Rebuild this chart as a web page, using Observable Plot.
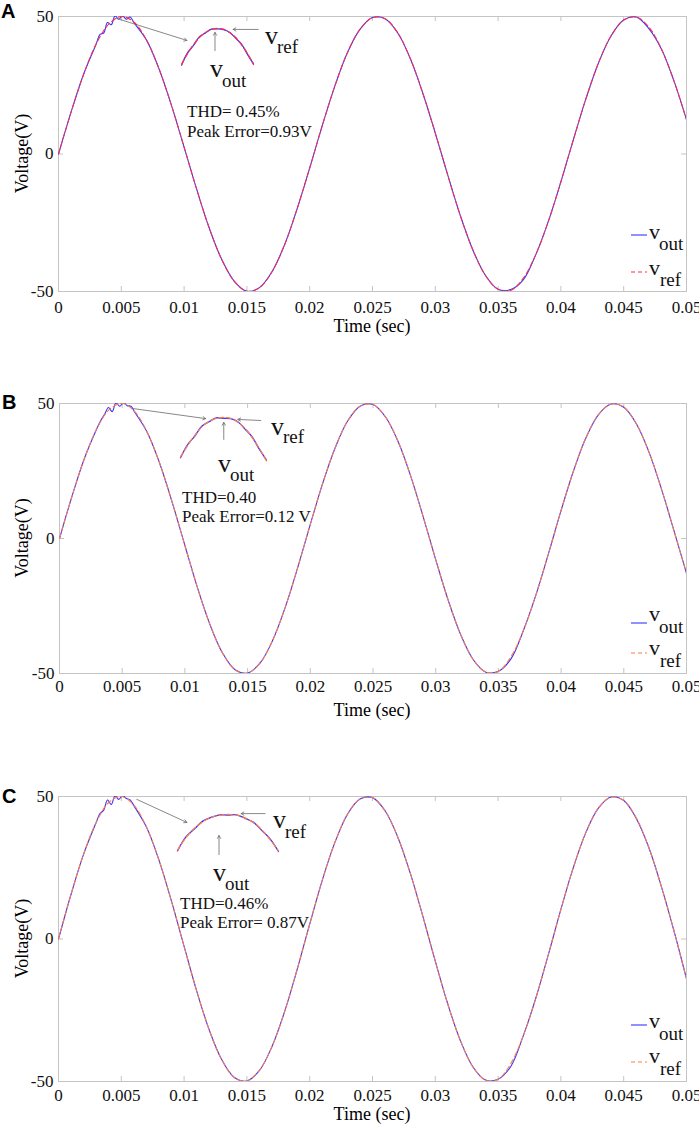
<!DOCTYPE html>
<html><head><meta charset="utf-8">
<script src="https://cdn.jsdelivr.net/npm/d3@7"></script>
<script src="https://cdn.jsdelivr.net/npm/@observablehq/plot@0.6"></script>
<style>
body{margin:0;background:#fff;}
#root{position:relative;width:699px;height:1126px;overflow:hidden;font-family:"Liberation Serif","Times New Roman",serif;}
#root svg{position:absolute;left:0;}
</style></head><body><div id="root"></div>
<script>
// ---- sampling grids (seconds) ----
const time = [0,0.001,0.002,0.003,0.004,0.005,0.006,0.007,0.008,0.009,0.01,0.011,0.012,0.013,0.014,0.015,0.016,0.017,0.018,0.019,0.02,0.021,0.022,0.023,0.024,0.025,0.026,0.027,0.028,0.029,0.03,0.031,0.032,0.033,0.034,0.035,0.036,0.037,0.038,0.039,0.04,0.041,0.042,0.043,0.044,0.045,0.046,0.047,0.048,0.049,0.05];
const voutTime = [0,0.001,0.002,0.003,0.0033,0.0036,0.0039,0.0042,0.0045,0.0048,0.0051,0.0054,0.0057,0.006,0.007,0.008,0.009,0.01,0.011,0.012,0.013,0.014,0.015,0.016,0.017,0.018,0.019,0.02,0.021,0.022,0.023,0.024,0.025,0.026,0.027,0.028,0.029,0.03,0.031,0.032,0.033,0.034,0.035,0.036,0.037,0.038,0.039,0.04,0.041,0.042,0.043,0.044,0.045,0.046,0.047,0.048,0.049,0.05];

// ---- panel A ----
const vrefA = [0,15.2,29.0,40.0,47.2,50.0,48.0,41.5,31.0,17.6,2.5,-12.8,-26.9,-38.4,-46.3,-49.9,-48.6,-42.8,-33.0,-19.9,-5.1,10.3,24.7,36.8,45.3,49.6,49.2,44.1,34.8,22.2,7.6,-7.8,-22.5,-35.0,-44.2,-49.2,-49.6,-45.2,-36.6,-24.5,-10.1,5.3,20.2,33.2,43.0,48.7,49.8,46.2,38.2,26.6,12.5];
const voutA = [0,15.2,29.0,40.0,43.5,44.0,47.8,47.0,50.2,49.0,50.3,49.0,49.8,47.8,41.5,31.0,17.6,2.5,-12.8,-26.9,-38.4,-46.3,-49.9,-48.6,-42.8,-33.0,-19.9,-5.1,10.3,24.7,36.8,45.3,49.6,49.2,44.1,34.8,22.2,7.6,-7.8,-22.5,-35.0,-44.2,-49.2,-49.3,-45.8,-36.6,-24.5,-10.1,5.3,20.2,33.2,43.0,48.7,49.8,45.6,38.2,26.6,12.5];

// ---- panel B ----
const vrefB = [0,15.7,29.8,40.9,47.9,50.0,47.0,39.3,27.7,13.2,-2.6,-18.2,-31.9,-42.4,-48.6,-49.8,-46.1,-37.7,-25.5,-10.7,5.2,20.6,33.8,43.7,49.1,49.6,45.0,35.9,23.2,8.1,-7.8,-22.9,-35.7,-44.9,-49.5,-49.2,-43.8,-34.0,-20.8,-5.5,10.4,25.2,37.5,46.0,49.8,48.6,42.5,32.1,18.4,2.9,-12.9];
const voutB = [0,15.7,29.8,40.9,43.8,46.0,48.5,47.0,50.2,49.0,50.3,49.2,49.0,46.8,39.3,27.7,13.2,-2.6,-18.2,-31.9,-42.4,-48.6,-49.8,-46.1,-37.7,-25.5,-10.7,5.2,20.6,33.8,43.7,49.1,49.6,45.0,35.9,23.2,8.1,-7.8,-22.9,-35.7,-44.9,-49.5,-49.2,-44.6,-34.0,-20.8,-5.5,10.4,25.2,37.5,46.0,49.8,48.6,42.5,32.1,18.4,2.9,-12.9];

// ---- panel C ----
const vrefC = [0,15.7,29.8,40.9,47.9,50.0,47.0,39.3,27.7,13.2,-2.6,-18.2,-31.9,-42.4,-48.6,-49.8,-46.1,-37.7,-25.5,-10.7,5.2,20.6,33.8,43.7,49.1,49.6,45.0,35.9,23.2,8.1,-7.8,-22.9,-35.7,-44.9,-49.5,-49.2,-43.8,-34.0,-20.8,-5.5,10.4,25.2,37.5,46.0,49.8,48.6,42.5,32.1,18.4,2.9,-14.0];
const voutC = [0,15.7,29.8,40.9,44.0,45.2,48.8,47.2,50.2,49.0,50.3,49.3,48.8,46.8,39.3,27.7,13.2,-2.6,-18.2,-31.9,-42.4,-48.6,-49.8,-46.1,-37.7,-25.5,-10.7,5.2,20.6,33.8,43.7,49.1,49.6,45.0,35.9,23.2,8.1,-7.8,-22.9,-35.7,-44.9,-49.5,-49.2,-44.8,-34.0,-20.8,-5.5,10.4,25.2,37.5,46.0,49.8,48.6,42.3,32.1,18.4,2.9,-14.0];

// ---- magnified peak insets (ms around the first peak) ----
const insetTime = [-1.5,-1.25,-1,-0.75,-0.5,-0.25,0,0.25,0.5,0.75,1,1.25,1.5];
const insetVrefA = [44.7,46.3,47.6,48.7,49.4,49.9,50,49.9,49.4,48.7,47.6,46.3,44.7];
const insetVoutA = [44.6,46.4,47.5,48.8,49.35,49.9,49.95,49.85,49.45,48.6,47.7,46.2,44.8];
const insetVrefB = [44.9,46.4,47.7,48.8,49.5,49.9,50,49.9,49.4,48.6,47.4,46.0,44.4];
const insetVoutB = [44.8,46.5,47.6,48.9,49.45,49.95,49.9,49.85,49.45,48.5,47.5,45.9,44.5];
const insetVrefC = [44.6,46.5,47.9,48.9,49.6,49.9,50,49.9,49.5,48.8,47.7,46.2,44.5];
const insetVoutC = [44.5,46.6,47.8,49.0,49.55,49.95,49.9,49.95,49.45,48.85,47.6,46.3,44.4];

// ---- arrows (time s, voltage V) ----
const arrowsA = {x1:[0.00463,0.0159,0.01246], y1:[49.3,45.3,37.6], x2:[0.01022,0.0139,0.01246], y2:[41.3,45.3,44.2]};
const arrowsB = {x1:[0.00591,0.01605,0.0131], y1:[48.1,43.7,36.7], x2:[0.01166,0.01422,0.0131], y2:[44.4,44.1,43.0]};
const arrowsC = {x1:[0.00623,0.01645,0.01278], y1:[49.0,44.0,29.6], x2:[0.01022,0.01454,0.01278], y2:[40.9,44.0,36.3]};

// ---- axes ----
const xTicks = [0,0.005,0.01,0.015,0.02,0.025,0.03,0.035,0.04,0.045,0.05];
const yTicks = [-50,0,50];
const xLabel = "Time (sec)";
const yLabel = "Voltage(V)";

const BLUE = "#3535ff";
const GRID = "#c4c4c4";
const W = 699;
const root = document.getElementById("root");
const FONT = '"Liberation Serif","Times New Roman",serif';

const panels = [
  {top:0,   mL:58, mR:13, mT:16, plotH:275, mB:49, vout:voutA, vref:vrefA, ref:"#ff3048", tickPad:9, arrows:arrowsA,
   inset:{left:181, top:28, w:72, h:36, vref:insetVrefA, vout:insetVoutA}},
  {top:387, mL:59, mR:13, mT:16, plotH:270, mB:47, vout:voutB, vref:vrefB, ref:"#ff7a4d", tickPad:6, arrows:arrowsB,
   inset:{left:180, top:417, w:86, h:41, vref:insetVrefB, vout:insetVoutB}},
  {top:780, mL:58, mR:13, mT:16, plotH:285, mB:45, vout:voutC, vref:vrefC, ref:"#ff7a4d", tickPad:7, arrows:arrowsC,
   inset:{left:177, top:814, w:101, h:35, vref:insetVrefC, vout:insetVoutC}}
];

const fmtX = d => d === 0 ? "0" : String(d);

for (const p of panels) {
  const plotW = W - p.mL - p.mR;
  const tx = 0.05 * 5 / plotW, ty = 100 * 5 / p.plotH;
  const outData = voutTime.map((t, i) => ({t, v: p.vout[i]}));
  const refData = time.map((t, i) => ({t, v: p.vref[i]}));
  const arr = p.arrows.x1.map((_, i) => ({x1: p.arrows.x1[i], y1: p.arrows.y1[i], x2: p.arrows.x2[i], y2: p.arrows.y2[i]}));
  const chart = Plot.plot({
    width: W, height: p.mT + p.plotH + p.mB,
    marginLeft: p.mL, marginRight: p.mR, marginTop: p.mT, marginBottom: p.mB,
    x: {domain: [0, 0.05]}, y: {domain: [-50, 50]},
    style: {fontFamily: FONT, fontSize: "17px", background: "transparent", overflow: "visible", color: "#111"},
    marks: [
      Plot.frame({stroke: GRID}),
      Plot.ruleX(xTicks, {x: d => d, y1: -50, y2: -50 + ty, stroke: GRID}),
      Plot.ruleX(xTicks, {x: d => d, y1: 50 - ty, y2: 50, stroke: GRID}),
      Plot.ruleY(yTicks, {y: d => d, x1: 0, x2: tx, stroke: GRID}),
      Plot.ruleY(yTicks, {y: d => d, x1: 0.05 - tx, x2: 0.05, stroke: GRID}),
      Plot.axisX(xTicks, {tickSize: 0, tickPadding: p.tickPad, tickFormat: fmtX, label: null, fontSize: 17}),
      Plot.axisY(yTicks, {tickSize: 0, tickPadding: 5, tickFormat: d => String(d), label: null, fontSize: 17}),
      Plot.line(outData, {x: "t", y: "v", stroke: BLUE, strokeWidth: 1.1, curve: "catmull-rom", clip: true}),
      Plot.line(refData, {x: "t", y: "v", stroke: p.ref, strokeWidth: 1.1, strokeDasharray: "5,3", curve: "catmull-rom", clip: true}),
      Plot.arrow(arr, {x1: "x1", y1: "y1", x2: "x2", y2: "y2", stroke: "#6a6a6a", strokeWidth: 0.8, headLength: 6})
    ]
  });
  chart.style.top = p.top + "px";
  root.appendChild(chart);

  // magnified peak inset
  const q = p.inset;
  const inset = Plot.plot({
    width: q.w, height: q.h, margin: 0,
    x: {domain: [-1.5, 1.5], axis: null}, y: {domain: [44.7, 50], axis: null},
    style: {background: "transparent", overflow: "visible"},
    marks: [
      Plot.line(insetTime.map((t, i) => ({t, v: q.vout[i]})), {x: "t", y: "v", stroke: BLUE, strokeWidth: 1.3, curve: "catmull-rom"}),
      Plot.line(insetTime.map((t, i) => ({t, v: q.vref[i]})), {x: "t", y: "v", stroke: p.ref, strokeWidth: 1.3, strokeDasharray: "5,3", curve: "catmull-rom"})
    ]
  });
  inset.style.top = q.top + "px";
  inset.style.left = q.left + "px";
  root.appendChild(inset);
}

// ---- text overlay ----
const svg = d3.select(root).append("svg").attr("width", W).attr("height", 1126)
  .style("top", "0px").style("pointer-events", "none").style("font-family", FONT);

const letters = [{x:1, y:18, t:"A"}, {x:2, y:409, t:"B"}, {x:2, y:803, t:"C"}];
svg.selectAll(null).data(letters).join("text").attr("x", d => d.x).attr("y", d => d.y)
  .attr("font-family", '"Liberation Sans",Arial,sans-serif').attr("font-weight", "bold").attr("font-size", 20).text(d => d.t);

const xTitleY = [332, 716, 1120];
const yTitleY = [153.5, 538, 938.5];
svg.selectAll(null).data(xTitleY).join("text").attr("x", 372).attr("y", d => d)
  .attr("text-anchor", "middle").attr("font-size", 18).text(xLabel);
svg.selectAll(null).data(yTitleY).join("text").attr("transform", d => `translate(28,${d}) rotate(-90)`)
  .attr("text-anchor", "middle").attr("font-size", 18).text(yLabel);

const notes = [
  {x:265,y:44,t:"v",s:26},{x:277,y:53,t:"ref",s:19},{x:210,y:77,t:"v",s:26},{x:222,y:87,t:"out",s:19},
  {x:187,y:117,t:"THD= 0.45%",s:17},{x:187,y:137,t:"Peak Error=0.93V",s:17},
  {x:271,y:435,t:"v",s:26},{x:283,y:443,t:"ref",s:19},{x:218,y:472,t:"v",s:26},{x:230,y:481,t:"out",s:19},
  {x:182,y:503,t:"THD=0.40",s:17},{x:182,y:522,t:"Peak Error=0.12 V",s:17},
  {x:273,y:828,t:"v",s:26},{x:285,y:838,t:"ref",s:19},{x:213,y:881,t:"v",s:26},{x:225,y:890,t:"out",s:19},
  {x:180,y:909,t:"THD=0.46%",s:17},{x:180,y:928,t:"Peak Error= 0.87V",s:17},
  // legends
  {x:649,y:239,t:"v",s:22},{x:659,y:250,t:"out",s:19},{x:649,y:275,t:"v",s:22},{x:660,y:286,t:"ref",s:19},
  {x:649,y:621,t:"v",s:22},{x:659,y:633,t:"out",s:19},{x:649,y:655,t:"v",s:22},{x:660,y:667,t:"ref",s:19},
  {x:649,y:1028,t:"v",s:22},{x:659,y:1040,t:"out",s:19},{x:649,y:1063,t:"v",s:22},{x:660,y:1075,t:"ref",s:19}
];
svg.selectAll(null).data(notes).join("text").attr("x", d => d.x).attr("y", d => d.y)
  .attr("font-size", d => d.s).attr("fill", "#111").text(d => d.t);

const legendLines = [
  {y:235, c:BLUE, dash:null}, {y:272, c:"#ff3048", dash:"4,3"},
  {y:623, c:BLUE, dash:null}, {y:653, c:"#ff7a4d", dash:"4,3"},
  {y:1025, c:BLUE, dash:null}, {y:1062, c:"#ff7a4d", dash:"4,3"}
];
svg.selectAll(null).data(legendLines).join("line").attr("x1", 631).attr("x2", 647)
  .attr("y1", d => d.y).attr("y2", d => d.y).attr("stroke", d => d.c).attr("stroke-width", 1.1)
  .attr("stroke-dasharray", d => d.dash);
</script></body></html>
